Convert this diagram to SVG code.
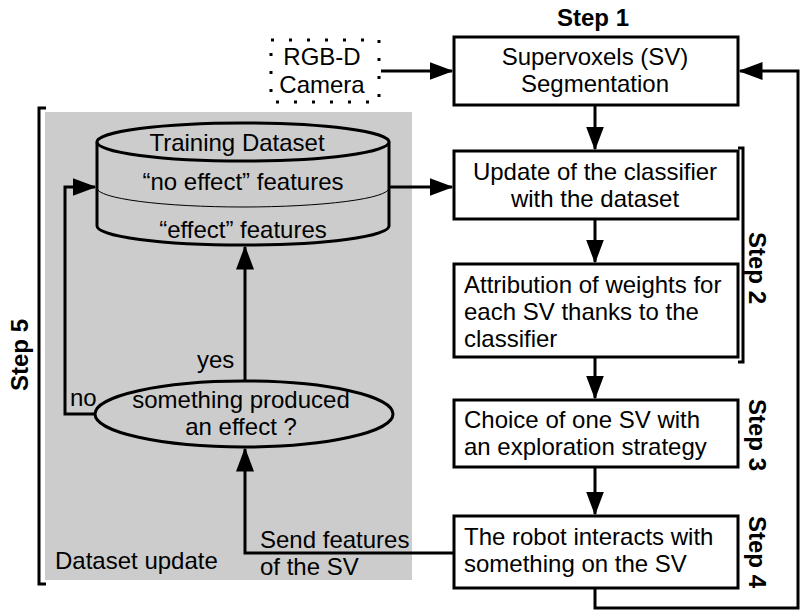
<svg xmlns="http://www.w3.org/2000/svg" width="802" height="612" viewBox="0 0 802 612">
<defs>
<marker id="ah" markerWidth="8" markerHeight="6" refX="7.5" refY="3" orient="auto" markerUnits="strokeWidth">
<path d="M0,0 L8,3 L0,6 Z" fill="#000"/>
</marker>
<style>
text{font-family:"Liberation Sans",Arial,sans-serif;font-size:24px;fill:#000}
.c{text-anchor:middle}
.b{font-weight:bold}
.box{fill:#fff;stroke:#000;stroke-width:3}
.ln{fill:none;stroke:#000;stroke-width:3}
.ar{fill:none;stroke:#000;stroke-width:3;marker-end:url(#ah)}
</style>
</defs>
<rect width="802" height="612" fill="#fff"/>
<rect x="45" y="112" width="367" height="468" fill="#cccccc"/>
<g id="brackets">
<path class="ln" d="M46,108 H39 V584 H46" stroke-width="2.5"/>
<path class="ln" d="M738,148 H743 V362 H738" stroke-width="2.5"/>
</g>
<g id="step-labels">
<text class="c b" x="593" y="26">Step 1</text>
<text class="c b" transform="translate(749,268) rotate(90)">Step 2</text>
<text class="c b" transform="translate(749,435) rotate(90)">Step 3</text>
<text class="c b" transform="translate(749,552) rotate(90)">Step 4</text>
<text class="c b" transform="translate(28,355) rotate(-90)">Step 5</text>
</g>
<g id="connectors">
<path class="ar" d="M381,71 H452"/>
<path class="ar" d="M595,106 V149"/>
<path class="ar" d="M595,219 V262"/>
<path class="ar" d="M595,357 V398"/>
<path class="ar" d="M595,467 V514"/>
<path class="ar" d="M595,588 V608 H798 V71 H740"/>
<path class="ar" d="M389,187 H452"/>
<path class="ar" d="M454,553 H245 V449"/>
<path class="ar" d="M245,381 V247"/>
<path class="ar" d="M96,414 H65 V187 H95"/>
</g>
<g id="camera">
<rect x="271" y="40" width="108" height="62" fill="none" stroke="#000" stroke-width="3" stroke-dasharray="3 15"/>
<text class="c" x="322" y="65">RGB-D</text>
<text class="c" x="322" y="93">Camera</text>
</g>
<g id="sv-seg">
<rect class="box" x="454" y="37" width="284" height="68"/>
<text class="c" x="595" y="65">Supervoxels (SV)</text>
<text class="c" x="595" y="92">Segmentation</text>
</g>
<g id="update">
<rect class="box" x="454" y="151" width="284" height="68"/>
<text class="c" x="595" y="180">Update of the classifier</text>
<text class="c" x="595" y="207">with the dataset</text>
</g>
<g id="weights">
<rect class="box" x="454" y="264" width="284" height="93"/>
<text x="464" y="293">Attribution of weights for</text>
<text x="464" y="320">each SV thanks to the</text>
<text x="464" y="347">classifier</text>
</g>
<g id="choice">
<rect class="box" x="454" y="400" width="284" height="67"/>
<text x="464" y="428">Choice of one SV with</text>
<text x="464" y="455">an exploration strategy</text>
</g>
<g id="robot">
<rect class="box" x="454" y="516" width="284" height="72"/>
<text x="464" y="545">The robot interacts with</text>
<text x="464" y="572">something on the SV</text>
</g>
<g id="dataset">
<path d="M97,142 V226 A146,19 0 0 0 389,226 V142" fill="#cccccc" stroke="#000" stroke-width="3"/>
<ellipse cx="243" cy="142" rx="146" ry="19" fill="#cccccc" stroke="#000" stroke-width="3"/>
<path d="M97,188 A146,19 0 0 0 389,188" fill="none" stroke="#000" stroke-width="1"/>
<text class="c" x="237" y="151">Training Dataset</text>
<text class="c" x="243" y="190">“no effect” features</text>
<text class="c" x="243" y="238">“effect” features</text>
</g>
<g id="decision">
<ellipse cx="244" cy="414" rx="149" ry="33" fill="#cccccc" stroke="#000" stroke-width="3"/>
<text class="c" x="241" y="408">something produced</text>
<text class="c" x="241" y="435">an effect ?</text>
</g>
<g id="labels">
<text x="197" y="368">yes</text>
<text x="70" y="406">no</text>
<text x="260" y="548">Send features</text>
<text x="260" y="575">of the SV</text>
<text x="55" y="569">Dataset update</text>
</g>
</svg>
